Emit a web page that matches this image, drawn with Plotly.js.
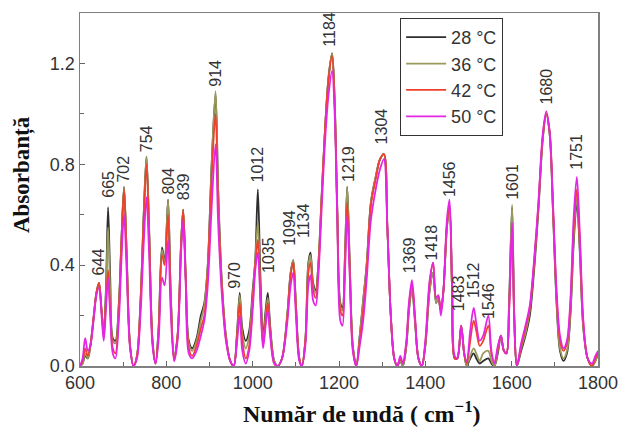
<!DOCTYPE html>
<html>
<head>
<meta charset="utf-8">
<script src="https://cdn.plot.ly/plotly-3.0.1.min.js"></script>
<style>html,body{margin:0;padding:0;background:#fff;}#chart{width:624px;height:429px;}</style>
</head>
<body>
<div id="chart"></div>
<script>
// Wavenumber (cm^-1)
const wavenumber = [600,606,612,618,624,632,638,644,650,655,660,665,670,676,682,690,696,702,708,716,724,732,740,748,754,760,768,775,782,790,796,804,810,818,826,834,839,845,852,860,870,880,888,896,905,914,920,928,938,948,956,964,970,976,984,992,1000,1006,1012,1018,1024,1030,1035,1041,1050,1058,1068,1080,1088,1094,1100,1108,1114,1122,1129,1134,1140,1146,1152,1160,1168,1176,1184,1190,1196,1203,1208,1214,1219,1225,1232,1240,1248,1256,1264,1274,1285,1295,1304,1312,1320,1328,1335,1342,1348,1356,1362,1369,1376,1384,1392,1400,1410,1418,1425,1430,1436,1442,1450,1456,1462,1468,1474,1483,1490,1496,1504,1512,1518,1526,1534,1546,1553,1560,1568,1575,1582,1588,1594,1601,1606,1612,1622,1632,1642,1652,1662,1672,1680,1688,1696,1704,1712,1720,1728,1736,1744,1751,1758,1766,1776,1786,1794,1800];

const abs28 = [0.00,0.01,0.04,0.03,0.08,0.20,0.29,0.33,0.22,0.13,0.30,0.63,0.35,0.11,0.10,0.25,0.50,0.71,0.45,0.08,0.00,0.04,0.25,0.62,0.83,0.55,0.10,0.01,0.15,0.47,0.42,0.66,0.30,0.03,0.12,0.48,0.62,0.35,0.10,0.07,0.11,0.20,0.25,0.40,0.80,1.08,0.70,0.35,0.12,0.02,0.00,0.14,0.29,0.15,0.10,0.14,0.30,0.42,0.70,0.35,0.12,0.22,0.29,0.15,0.02,0.00,0.03,0.20,0.37,0.42,0.25,0.03,0.00,0.10,0.41,0.45,0.33,0.30,0.40,0.68,0.95,1.15,1.24,1.05,0.62,0.25,0.23,0.45,0.71,0.40,0.08,0.00,0.12,0.26,0.40,0.65,0.75,0.82,0.84,0.55,0.20,0.03,0.00,0.02,0.00,0.08,0.22,0.31,0.18,0.03,0.00,0.08,0.30,0.37,0.25,0.27,0.22,0.30,0.55,0.63,0.30,0.03,0.03,0.16,0.05,0.00,0.03,0.05,0.03,0.01,0.02,0.03,0.01,0.00,0.05,0.12,0.06,0.05,0.25,0.63,0.20,0.00,0.06,0.12,0.20,0.38,0.62,0.90,1.00,0.92,0.60,0.25,0.06,0.02,0.05,0.20,0.50,0.65,0.45,0.15,0.03,0.00,0.02,0.05];

const abs36 = [0.00,0.01,0.05,0.03,0.08,0.20,0.29,0.33,0.22,0.13,0.28,0.55,0.30,0.10,0.09,0.24,0.50,0.71,0.45,0.08,0.00,0.04,0.25,0.62,0.83,0.55,0.10,0.01,0.14,0.46,0.41,0.66,0.30,0.03,0.12,0.48,0.62,0.35,0.09,0.06,0.10,0.18,0.24,0.40,0.80,1.09,0.70,0.35,0.12,0.02,0.00,0.13,0.28,0.13,0.07,0.12,0.28,0.42,0.57,0.30,0.10,0.20,0.27,0.14,0.02,0.00,0.03,0.20,0.37,0.42,0.25,0.03,0.00,0.10,0.40,0.44,0.32,0.29,0.40,0.68,0.95,1.15,1.24,1.05,0.62,0.24,0.22,0.45,0.71,0.40,0.08,0.00,0.12,0.26,0.40,0.65,0.75,0.82,0.84,0.55,0.20,0.03,0.00,0.02,0.00,0.08,0.22,0.31,0.18,0.03,0.00,0.08,0.30,0.37,0.25,0.27,0.22,0.30,0.55,0.63,0.30,0.03,0.03,0.16,0.05,0.00,0.04,0.07,0.05,0.02,0.05,0.06,0.02,0.00,0.06,0.12,0.06,0.05,0.25,0.64,0.20,0.00,0.07,0.13,0.22,0.40,0.63,0.90,1.00,0.92,0.60,0.26,0.07,0.03,0.06,0.21,0.52,0.67,0.46,0.15,0.03,0.00,0.02,0.05];

const abs42 = [0.00,0.02,0.07,0.04,0.08,0.20,0.29,0.33,0.22,0.12,0.25,0.38,0.22,0.07,0.05,0.22,0.49,0.70,0.44,0.08,0.00,0.04,0.24,0.60,0.80,0.53,0.10,0.01,0.13,0.44,0.40,0.60,0.28,0.02,0.12,0.47,0.62,0.35,0.07,0.04,0.08,0.15,0.20,0.38,0.75,1.00,0.65,0.33,0.11,0.02,0.00,0.12,0.25,0.10,0.03,0.08,0.25,0.40,0.50,0.27,0.08,0.18,0.25,0.13,0.01,0.00,0.03,0.19,0.36,0.41,0.24,0.03,0.00,0.10,0.37,0.41,0.30,0.27,0.38,0.67,0.95,1.14,1.23,1.04,0.62,0.22,0.20,0.42,0.65,0.38,0.07,0.00,0.10,0.22,0.38,0.64,0.74,0.82,0.84,0.55,0.20,0.03,0.00,0.03,0.01,0.09,0.24,0.33,0.19,0.03,0.00,0.09,0.33,0.41,0.27,0.28,0.22,0.30,0.56,0.64,0.30,0.03,0.03,0.16,0.05,0.01,0.10,0.18,0.14,0.08,0.10,0.16,0.05,0.01,0.07,0.12,0.06,0.05,0.22,0.55,0.18,0.00,0.08,0.15,0.23,0.41,0.64,0.91,1.00,0.93,0.62,0.28,0.10,0.06,0.09,0.24,0.56,0.70,0.49,0.17,0.03,0.00,0.03,0.05];

const abs50 = [0.00,0.03,0.11,0.06,0.08,0.19,0.28,0.31,0.20,0.10,0.22,0.35,0.20,0.05,0.03,0.18,0.42,0.60,0.38,0.07,0.00,0.03,0.20,0.50,0.67,0.45,0.08,0.01,0.10,0.35,0.32,0.50,0.22,0.02,0.10,0.44,0.58,0.32,0.05,0.03,0.06,0.12,0.18,0.32,0.63,0.88,0.57,0.30,0.10,0.02,0.00,0.10,0.20,0.06,0.01,0.06,0.22,0.38,0.45,0.25,0.07,0.16,0.22,0.11,0.01,0.00,0.03,0.17,0.32,0.37,0.21,0.02,0.00,0.08,0.32,0.36,0.26,0.24,0.35,0.63,0.90,1.08,1.17,1.00,0.58,0.18,0.16,0.38,0.60,0.35,0.06,0.00,0.08,0.18,0.34,0.58,0.70,0.78,0.82,0.55,0.20,0.03,0.00,0.04,0.01,0.10,0.25,0.34,0.20,0.03,0.00,0.10,0.34,0.41,0.27,0.28,0.20,0.30,0.58,0.66,0.32,0.04,0.03,0.16,0.05,0.02,0.14,0.23,0.17,0.10,0.12,0.20,0.06,0.01,0.08,0.12,0.06,0.05,0.22,0.57,0.18,0.00,0.09,0.16,0.24,0.42,0.65,0.92,1.01,0.93,0.63,0.30,0.12,0.07,0.10,0.26,0.60,0.75,0.52,0.18,0.03,0.01,0.04,0.06];

const seriesNames = ['28 °C','36 °C','42 °C','50 °C'];

// Peak labels
const peakLabels = ['644','665','702','754','804','839','914','970','1012','1035','1094','1134','1184','1219','1304','1369','1418','1456','1483','1512','1546','1601','1680','1751'];
const peakLabelX = [642,664,701,754,804,840,914,959,1010,1035,1085,1118,1179,1222,1299,1362,1415,1456,1476,1512,1546,1600,1680,1751];
const peakLabelY = [0.35,0.66,0.72,0.84,0.67,0.65,1.10,0.30,0.72,0.36,0.47,0.50,1.26,0.72,0.87,0.36,0.41,0.66,0.21,0.26,0.18,0.65,1.03,0.77];

const xTitle = 'Număr de undă ( cm<sup>−1</sup>)';
const yTitle = 'Absorbanță';

const colors = ['#2e2e2e','#9a9a5c','#f0402c','#e426e4'];
const ys = [abs28, abs36, abs42, abs50];

const traces = ys.map((y, i) => ({
  x: wavenumber, y: y, type: 'scatter', mode: 'lines', name: seriesNames[i],
  line: {color: colors[i], width: 1.8, shape: 'spline', smoothing: 0.9}
}));

const annotations = peakLabels.map((t, i) => ({
  x: peakLabelX[i], y: peakLabelY[i], xref: 'x', yref: 'y', text: t,
  showarrow: false, textangle: -90, xanchor: 'center', yanchor: 'bottom',
  font: {family: 'Liberation Sans, Arial, sans-serif', size: 16, color: '#333'}
}));
annotations.push({
  x: 0.544, y: 0, xref: 'paper', yref: 'paper', yshift: -46, text: xTitle,
  showarrow: false, xanchor: 'center', yanchor: 'middle',
  font: {family: 'Liberation Serif, Times New Roman, serif', size: 24, color: '#111', weight: 'bold'}
});
annotations.push({
  x: 0, y: 0.541, xref: 'paper', yref: 'paper', xshift: -58, text: yTitle,
  showarrow: false, textangle: -90, xanchor: 'center', yanchor: 'middle',
  font: {family: 'Liberation Serif, Times New Roman, serif', size: 23, color: '#111', weight: 'bold'}
});

const layout = {
  width: 624, height: 429,
  margin: {l: 80, r: 26, t: 13, b: 63},
  paper_bgcolor: '#fff', plot_bgcolor: '#fff',
  showlegend: true,
  legend: {
    x: 0.618, y: 0.986, xanchor: 'left', yanchor: 'top',
    bordercolor: '#333', borderwidth: 1, bgcolor: '#fff',
    font: {family: 'Liberation Sans, Arial, sans-serif', size: 18, color: '#333'},
    itemwidth: 40
  },
  xaxis: {
    range: [600, 1800], tickvals: [600,800,1000,1200,1400,1600,1800],
    ticks: 'inside', ticklen: 5, tickcolor: '#666',
    minor: {tickvals: [700,900,1100,1300,1500,1700], ticks: 'inside', ticklen: 4, tickcolor: '#666'},
    showgrid: false, zeroline: false, showline: true, mirror: true, linecolor: '#808080', linewidth: 1.5,
    tickfont: {family: 'Liberation Sans, Arial, sans-serif', size: 18, color: '#333'}
  },
  yaxis: {
    range: [0, 1.4], tickvals: [0, 0.4, 0.8, 1.2], ticktext: ['0.0','0.4','0.8','1.2'],
    ticks: 'inside', ticklen: 5, tickcolor: '#666',
    minor: {tickvals: [0.2, 0.6, 1.0], ticks: 'inside', ticklen: 4, tickcolor: '#666'},
    showgrid: false, zeroline: false, showline: true, mirror: true, linecolor: '#808080', linewidth: 1.5,
    tickfont: {family: 'Liberation Sans, Arial, sans-serif', size: 18, color: '#333'}
  },
  annotations: annotations
};

Plotly.newPlot('chart', traces, layout, {displayModeBar: false, staticPlot: true});
</script>
</body>
</html>
